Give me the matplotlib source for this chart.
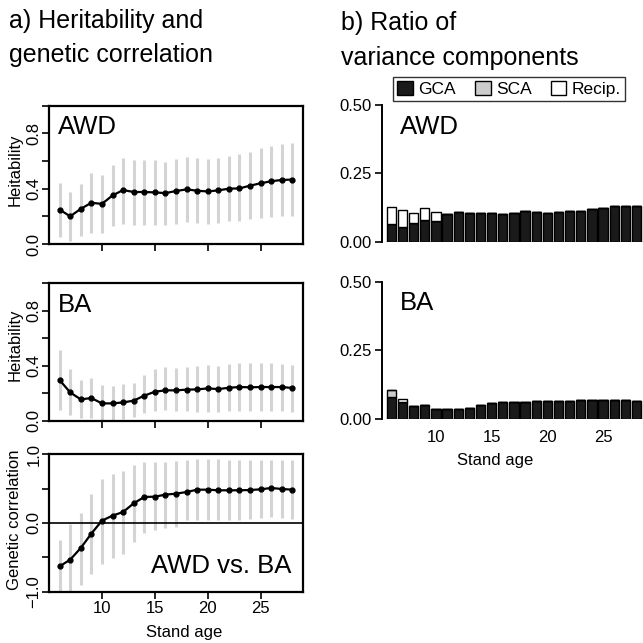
import numpy as np
import matplotlib
matplotlib.use('Agg')
import matplotlib.pyplot as plt
from matplotlib.patches import Patch

plt.rcParams['font.family'] = ['Liberation Sans', 'DejaVu Sans']

# stand age
age = np.arange(6, 29)

# heritability of AWD (estimate, lower and upper limits)
h2_awd = [0.249, 0.200, 0.254, 0.298, 0.290, 0.351, 0.390, 0.376, 0.376, 0.373, 0.368, 0.383,
          0.395, 0.385, 0.380, 0.388, 0.400, 0.402, 0.422, 0.439, 0.454, 0.463, 0.466]
h2_awd_lo = [0.054, 0.024, 0.061, 0.083, 0.083, 0.127, 0.146, 0.139, 0.139, 0.139, 0.137, 0.146,
             0.156, 0.151, 0.146, 0.151, 0.163, 0.166, 0.178, 0.188, 0.198, 0.200, 0.205]
h2_awd_hi = [0.444, 0.376, 0.437, 0.510, 0.498, 0.571, 0.624, 0.607, 0.607, 0.605, 0.595, 0.615,
             0.632, 0.620, 0.612, 0.624, 0.639, 0.649, 0.668, 0.693, 0.712, 0.724, 0.729]

# heritability of BA
h2_ba = [0.296, 0.206, 0.155, 0.165, 0.126, 0.126, 0.133, 0.146, 0.182, 0.211, 0.221, 0.221,
         0.226, 0.228, 0.235, 0.230, 0.240, 0.245, 0.243, 0.245, 0.245, 0.245, 0.238]
h2_ba_lo = [0.078, 0.038, 0.017, 0.022, 0.005, 0.005, 0.012, 0.024, 0.053, 0.073, 0.078, 0.073,
            0.073, 0.066, 0.066, 0.066, 0.073, 0.073, 0.073, 0.073, 0.073, 0.073, 0.066]
h2_ba_hi = [0.515, 0.376, 0.296, 0.308, 0.260, 0.252, 0.265, 0.277, 0.333, 0.374, 0.388, 0.386,
            0.393, 0.400, 0.408, 0.400, 0.413, 0.417, 0.417, 0.420, 0.420, 0.415, 0.408]

# genetic correlation AWD vs. BA
rg = [-0.631, -0.534, -0.364, -0.155, 0.034, 0.107, 0.160, 0.286, 0.379, 0.383, 0.413, 0.427,
      0.451, 0.485, 0.485, 0.476, 0.476, 0.476, 0.480, 0.490, 0.510, 0.495, 0.485]
rg_lo = [-1.0, -1.0, -0.90, -0.74, -0.59, -0.51, -0.447, -0.282, -0.146, -0.107, -0.073, -0.058,
         0.049, 0.039, 0.049, 0.049, 0.049, 0.049, 0.058, 0.073, 0.087, 0.073, 0.058]
rg_hi = [-0.252, -0.015, 0.146, 0.417, 0.646, 0.714, 0.752, 0.850, 0.888, 0.888, 0.888, 0.908,
         0.922, 0.937, 0.932, 0.932, 0.922, 0.922, 0.922, 0.922, 0.922, 0.917, 0.917]

# ratio of variance components
gca_awd = [0.066, 0.052, 0.067, 0.081, 0.077, 0.101, 0.108, 0.105, 0.105, 0.105, 0.101, 0.106,
           0.111, 0.109, 0.106, 0.109, 0.111, 0.112, 0.118, 0.123, 0.129, 0.130, 0.132]
sca_awd = [0.0] * 23
rec_awd = [0.062, 0.064, 0.039, 0.043, 0.033] + [0.0] * 18

gca_ba = [0.081, 0.064, 0.048, 0.051, 0.038, 0.036, 0.039, 0.041, 0.052, 0.059, 0.063, 0.063,
          0.063, 0.065, 0.067, 0.065, 0.068, 0.069, 0.069, 0.069, 0.069, 0.070, 0.067]
sca_ba = [0.027] + [0.0] * 22
rec_ba = [0.0, 0.009] + [0.0] * 21

W, H = 643, 643
fig = plt.figure(figsize=(6.43, 6.43), dpi=100)


def box(x0, y0, x1, y1):
    # pixel box -> figure fraction
    return [x0 / W, 1 - y1 / H, (x1 - x0) / W, (y1 - y0) / H]


def left_panel(rect, est, lo, hi, ylim, yticks, ylabels):
    ax = fig.add_axes(rect)
    ax.vlines(age, lo, hi, color='#d4d4d4', lw=2.2, zorder=1)
    ax.plot(age, est, color='black', lw=1.6, marker='o', ms=3.5, zorder=3)
    ax.set_xlim(5, 29)
    ax.set_ylim(*ylim)
    ax.set_xticks([10, 15, 20, 25])
    ax.set_yticks(yticks)
    ax.set_yticklabels(ylabels, rotation=90, va='center')
    for s in ax.spines.values():
        s.set_linewidth(1.6)
    ax.tick_params(direction='out', length=5, width=1.2, labelsize=12, pad=2)
    ax.tick_params(axis='y', pad=0.5)
    return ax


ax1 = left_panel(box(49, 105.7, 303, 244), h2_awd, h2_awd_lo, h2_awd_hi, (0, 1),
                 [0, 0.2, 0.4, 0.6, 0.8, 1.0], ['0.0', '', '0.4', '', '0.8', ''])
ax1.set_xticklabels([])
ax1.text(0.035, 0.93, 'AWD', transform=ax1.transAxes, fontsize=18.5, va='top')
fig.text(15 / W, 1 - 170 / H, 'Heitability', rotation=90, ha='center', va='center', fontsize=12)

ax2 = left_panel(box(49, 283.3, 303, 420.7), h2_ba, h2_ba_lo, h2_ba_hi, (0, 1),
                 [0, 0.2, 0.4, 0.6, 0.8, 1.0], ['0.0', '', '0.4', '', '0.8', ''])
ax2.set_xticklabels([])
ax2.text(0.035, 0.93, 'BA', transform=ax2.transAxes, fontsize=18.5, va='top')
fig.text(15 / W, 1 - 345 / H, 'Heitability', rotation=90, ha='center', va='center', fontsize=12)

ax3 = left_panel(box(49, 454.3, 303, 591.7), rg, rg_lo, rg_hi, (-1, 1),
                 [-1, -0.5, 0, 0.5, 1.0], ['\u22121.0', '', '0.0', '', '1.0'])
ax3.axhline(0, color='black', lw=1.2, zorder=2)
ax3.set_xticklabels(['10', '15', '20', '25'])
ax3.text(0.955, 0.1, 'AWD vs. BA', transform=ax3.transAxes, fontsize=18.5, ha='right', va='bottom')
fig.text(15 / W, 1 - 520 / H, 'Genetic correlation', rotation=90, ha='center', va='center', fontsize=12)
fig.text(184 / W, 1 - 632 / H, 'Stand age', ha='center', va='center', fontsize=12)


def right_panel(rect, gca, sca, rec, label, show_x):
    ax = fig.add_axes(rect)
    g = np.array(gca)
    s = np.array(sca)
    r = np.array(rec)
    kw = dict(width=0.833, edgecolor='black', linewidth=1.0)
    ax.bar(age, g, color='#1a1a1a', **kw)
    ax.bar(age, s, bottom=g, color='#cccccc', **kw)
    ax.bar(age, r, bottom=g + s, color='white', **kw)
    ax.set_xlim(5.14, 28.58)
    ax.set_ylim(0, 0.5)
    for k in ['top', 'right', 'bottom']:
        ax.spines[k].set_visible(False)
    ax.spines['left'].set_linewidth(1.4)
    ax.set_yticks([0, 0.25, 0.5])
    ax.set_yticklabels(['0.00', '0.25', '0.50'])
    ax.tick_params(axis='y', direction='out', length=5, width=1.2, labelsize=12, pad=2)
    ax.set_xticks([10, 15, 20, 25])
    if show_x:
        ax.tick_params(axis='x', length=0, labelsize=12, pad=8)
    else:
        ax.tick_params(axis='x', length=0, labelbottom=False)
    ax.text(0.07, 0.93, label, transform=ax.transAxes, fontsize=18.5, va='top')
    return ax


ax4 = right_panel(box(381.7, 105, 643, 241.7), gca_awd, sca_awd, rec_awd, 'AWD', False)
ax5 = right_panel(box(381.7, 281.7, 643, 419.3), gca_ba, sca_ba, rec_ba, 'BA', True)
fig.text(495 / W, 1 - 461 / H, 'Stand age', ha='center', va='center', fontsize=12)

handles = [Patch(facecolor='#1a1a1a', edgecolor='black', label='GCA'),
           Patch(facecolor='#cccccc', edgecolor='black', label='SCA'),
           Patch(facecolor='white', edgecolor='black', label='Recip.')]
leg = fig.legend(handles=handles, loc='center', bbox_to_anchor=(509 / W, 1 - 89 / H), ncol=3,
                 fontsize=12.5, frameon=True, fancybox=False, edgecolor='black',
                 handlelength=0.9, handleheight=0.9, handletextpad=0.3, columnspacing=1.1,
                 borderpad=0.25, borderaxespad=0)
leg.get_frame().set_linewidth(1.0)

fig.text(9 / W, 1 - 28 / H, 'a) Heritability and', fontsize=18, va='baseline')
fig.text(9 / W, 1 - 62 / H, 'genetic correlation', fontsize=18, va='baseline')
fig.text(341 / W, 1 - 30 / H, 'b) Ratio of', fontsize=18, va='baseline')
fig.text(341 / W, 1 - 65 / H, 'variance components', fontsize=18, va='baseline')

fig.savefig('out.png', dpi=100)
